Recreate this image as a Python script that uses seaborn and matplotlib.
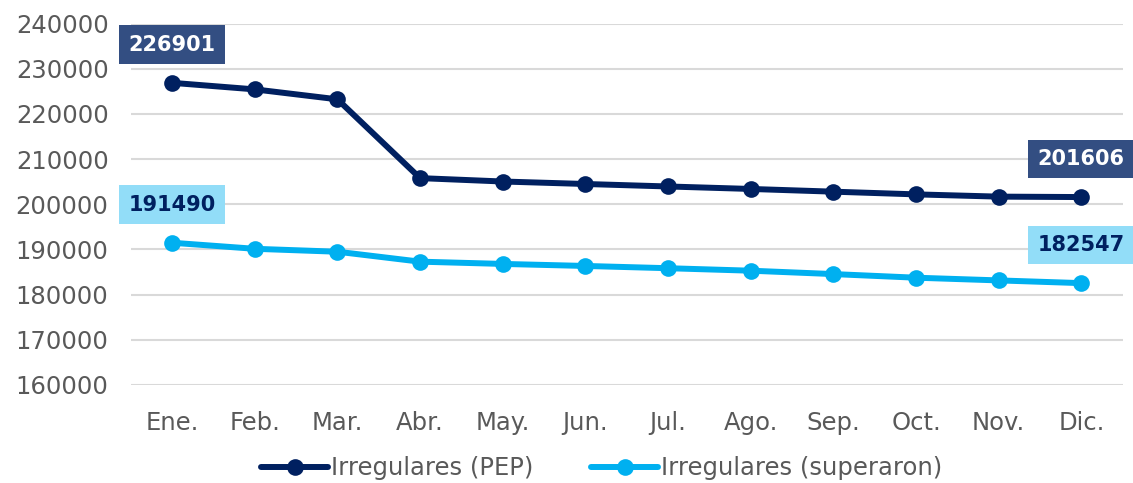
import matplotlib
matplotlib.use("Agg")
import matplotlib.pyplot as plt
import seaborn as sns
import pandas as pd

months = ["Ene.", "Feb.", "Mar.", "Abr.", "May.", "Jun.", "Jul.", "Ago.", "Sep.", "Oct.", "Nov.", "Dic."]
pep = [226901, 225450, 223250, 205800, 205050, 204500, 203950, 203400, 202800, 202200, 201700, 201606]
superaron = [191490, 190150, 189500, 187300, 186800, 186350, 185850, 185300, 184550, 183750, 183150, 182547]
series_names = ["Irregulares (PEP)", "Irregulares (superaron)"]
yticks = [160000, 170000, 180000, 190000, 200000, 210000, 220000, 230000, 240000]

navy = "#002060"
light = "#00B0F0"
box_dark = "#334E82"
box_light = "#92DDF8"

df = pd.DataFrame({
    "mes": list(range(len(months))) * 2,
    "valor": pep + superaron,
    "serie": [series_names[0]] * len(months) + [series_names[1]] * len(months),
})

sns.set_style("white")
plt.rcParams['font.family'] = ['DejaVu Sans']

fig = plt.figure(figsize=(11.33, 4.83), dpi=100)
ax = fig.add_axes([0.1154, 0.203, 0.8755, 0.748])

sns.lineplot(data=df, x="mes", y="valor", hue="serie", palette=[navy, light],
             marker="o", markersize=12, markeredgewidth=0, linewidth=4.3,
             ax=ax, legend=False)

ax.set_xlim(-0.5, len(months) - 0.5)
ax.set_ylim(yticks[0], yticks[-1])
ax.set_yticks(yticks)
ax.set_yticklabels([str(v) for v in yticks])
ax.set_xticks(range(len(months)))
ax.set_xticklabels(months)
ax.set_xlabel("")
ax.set_ylabel("")
ax.grid(axis="y", color="#D9D9D9", linewidth=1.5)
ax.set_axisbelow(True)
for s in ax.spines.values():
    s.set_visible(False)
ax.tick_params(axis="y", length=0, pad=16, labelsize=17.5, labelcolor="#595959")
ax.tick_params(axis="x", length=0, pad=19, labelsize=17.5, labelcolor="#595959")

def label(i, v, fc, tc):
    ax.annotate(str(v), xy=(i, v), xytext=(0, 27.4), textcoords="offset points",
                ha="center", va="center", fontsize=15, fontweight="bold", color=tc,
                bbox=dict(boxstyle="square,pad=0.45", fc=fc, ec="none"), zorder=5)

label(0, pep[0], box_dark, "white")
label(len(months) - 1, pep[-1], box_dark, "white")
label(0, superaron[0], box_light, navy)
label(len(months) - 1, superaron[-1], box_light, navy)

from matplotlib.lines import Line2D
handles = [Line2D([], [], color=navy, lw=4.3, marker="o", markersize=12, markeredgewidth=0),
           Line2D([], [], color=light, lw=4.3, marker="o", markersize=12, markeredgewidth=0)]
leg = fig.legend(handles, series_names, loc="center", bbox_to_anchor=(0.531, 0.031), ncol=2,
                 frameon=False, fontsize=17.5, handlelength=2.75, handletextpad=0.1,
                 columnspacing=2.4)
for t in leg.get_texts():
    t.set_color("#595959")

fig.savefig("out.png", dpi=100)
